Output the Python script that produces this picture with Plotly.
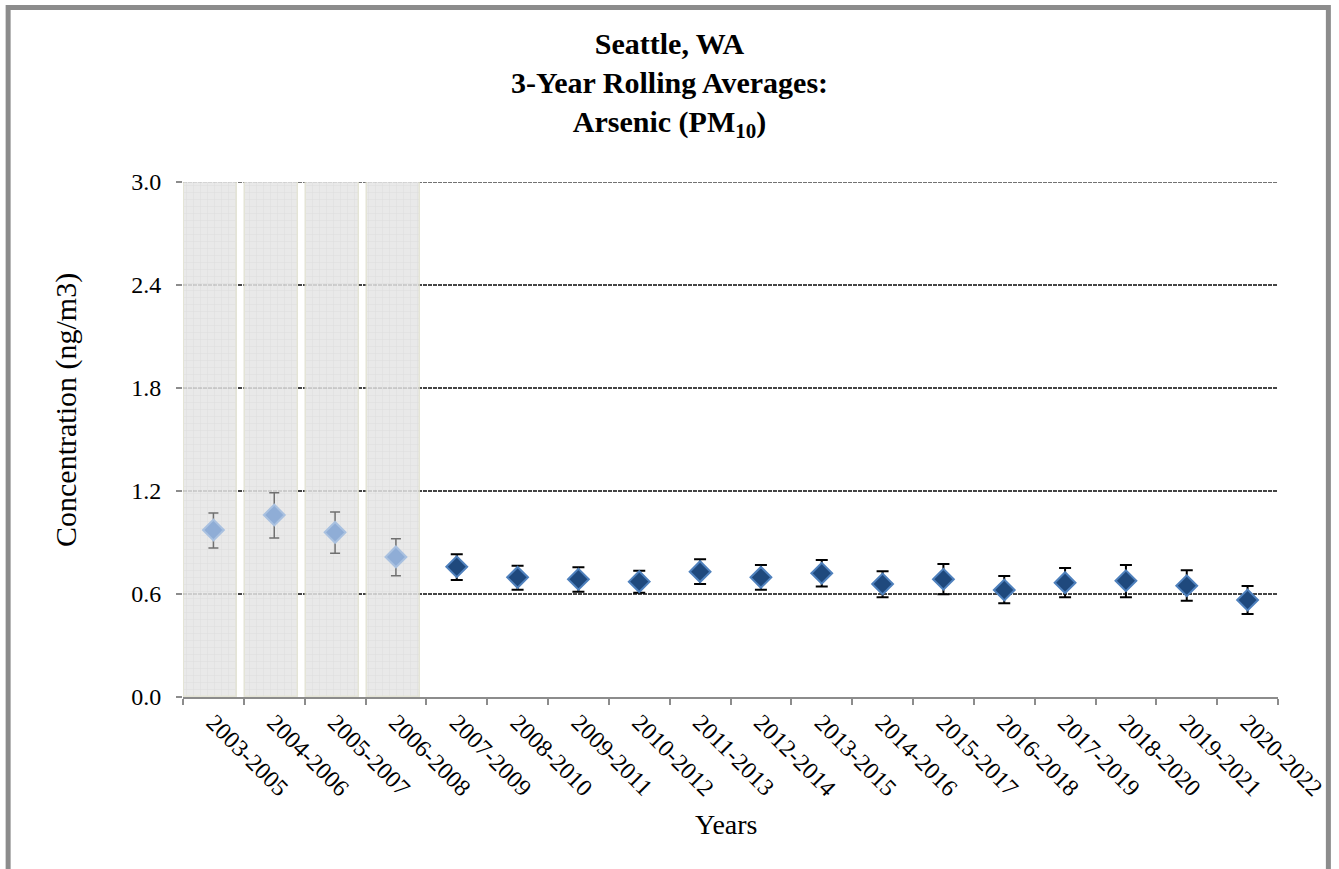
import plotly.graph_objects as go

# 3-year rolling averages of arsenic (PM10) at Seattle, WA, ng/m3
years = [
    "2003-2005", "2004-2006", "2005-2007", "2006-2008", "2007-2009",
    "2008-2010", "2009-2011", "2010-2012", "2011-2013", "2012-2014",
    "2013-2015", "2014-2016", "2015-2017", "2016-2018", "2017-2019",
    "2018-2020", "2019-2021", "2020-2022",
]
avg = [0.973, 1.060, 0.959, 0.816, 0.759, 0.697, 0.686, 0.672, 0.730,
       0.697, 0.721, 0.658, 0.686, 0.623, 0.666, 0.677, 0.648, 0.565]
upper = [1.072, 1.190, 1.078, 0.922, 0.831, 0.765, 0.756, 0.736, 0.802,
         0.769, 0.798, 0.732, 0.775, 0.705, 0.751, 0.769, 0.738, 0.647]
lower = [0.868, 0.926, 0.837, 0.707, 0.682, 0.625, 0.613, 0.608, 0.658,
         0.625, 0.643, 0.581, 0.598, 0.546, 0.581, 0.581, 0.561, 0.483]

# periods drawn on a shaded background (earlier sampling method)
shaded_periods = ["2003-2005", "2004-2006", "2005-2007", "2006-2008"]

y_ticks = [0.0, 0.6, 1.2, 1.8, 2.4, 3.0]
y_max = 3.0

FONT = "Liberation Serif"
GRID = dict(color="#454545", width=1.5, dash="4px,1px")

n_shaded = len(shaded_periods)
err_up = [u - a for u, a in zip(upper, avg)]
err_dn = [a - l for a, l in zip(avg, lower)]

fig = go.Figure()

# shaded background columns
fig.add_trace(go.Bar(
    x=shaded_periods,
    y=[y_max] * n_shaded,
    width=0.87,
    offset=-0.48,
    marker=dict(
        color="#e4e4e4",
        line=dict(color="#e0e0d0", width=1.5),
        pattern=dict(shape="+", fgcolor="#cbcbcb", bgcolor="#e6e6e6",
                     size=7, solidity=0.15),
    ),
    opacity=0.85,
    hoverinfo="skip",
    showlegend=False,
))

# early periods: lighter markers, grey error bars
fig.add_trace(go.Scatter(
    x=years[:n_shaded],
    y=avg[:n_shaded],
    mode="markers",
    marker=dict(symbol="diamond", size=16, color="#8fadd6",
                line=dict(color="#a9c1e0", width=2)),
    error_y=dict(type="data", symmetric=False,
                 array=err_up[:n_shaded], arrayminus=err_dn[:n_shaded],
                 color="#707070", thickness=1.5, width=5),
    showlegend=False,
))

# later periods
fig.add_trace(go.Scatter(
    x=years[n_shaded:],
    y=avg[n_shaded:],
    mode="markers",
    marker=dict(symbol="diamond", size=16, color="#1f497d",
                line=dict(color="#4f81bd", width=2)),
    error_y=dict(type="data", symmetric=False,
                 array=err_up[n_shaded:], arrayminus=err_dn[n_shaded:],
                 color="#000000", thickness=2, width=6),
    showlegend=False,
))

fig.update_layout(
    width=1339,
    height=869,
    margin=dict(l=183, r=57, t=182, b=172),
    paper_bgcolor="white",
    plot_bgcolor="white",
    font=dict(family=FONT, color="black", size=24),
    bargap=0,
    title=dict(
        text="<b>Seattle, WA<br>3-Year Rolling Averages:<br>Arsenic (PM<sub>10</sub>)</b>",
        font=dict(family=FONT, size=30, color="black"),
        x=0.5, xref="container", xanchor="center",
        y=0.938, yref="container", yanchor="top",
    ),
    xaxis=dict(
        type="category",
        categoryorder="array",
        categoryarray=years,
        tickmode="array",
        tickvals=years,
        ticktext=years,
        tickangle=45,
        tickson="boundaries",
        ticks="outside",
        ticklen=6,
        tickwidth=2,
        tickcolor="#8c8c8c",
        showline=True,
        linecolor="#8c8c8c",
        linewidth=2,
        showgrid=False,
        tickfont=dict(family=FONT, size=24, color="black"),
        range=[-0.5, len(years) - 0.5],
    ),
    yaxis=dict(
        range=[0, y_max],
        tickmode="array",
        tickvals=y_ticks,
        ticktext=[f"{v:.1f}" for v in y_ticks],
        ticks="outside",
        ticklen=6,
        tickwidth=1.5,
        tickcolor="#8c8c8c",
        showline=False,
        zeroline=False,
        showgrid=True,
        gridcolor=GRID["color"],
        gridwidth=GRID["width"],
        griddash=GRID["dash"],
        tickfont=dict(family=FONT, size=24, color="black"),
        ticklabelstandoff=10,
    ),
    annotations=[
        dict(text="Concentration (ng/m3)", textangle=-90,
             x=-0.107, y=0.557, xref="paper", yref="paper",
             showarrow=False, xanchor="center", yanchor="middle",
             font=dict(family=FONT, size=30, color="black")),
        dict(text="Years",
             x=0.496, y=-0.2485, xref="paper", yref="paper",
             showarrow=False, xanchor="center", yanchor="middle",
             font=dict(family=FONT, size=28, color="black")),
    ],
    shapes=[
        # top gridline, which sits on the edge of the plotting area
        dict(type="line", xref="paper", yref="y",
             x0=0, x1=1, y0=y_max, y1=y_max,
             line=GRID, layer="below"),
        # outer chart border
        dict(type="rect", xref="paper", yref="paper",
             x0=-0.1597, x1=1.0460, y0=-0.36, y1=1.3388,
             line=dict(color="#8c8c8c", width=5), fillcolor="rgba(0,0,0,0)",
             layer="below"),
    ],
)

fig.write_html("out.html")
